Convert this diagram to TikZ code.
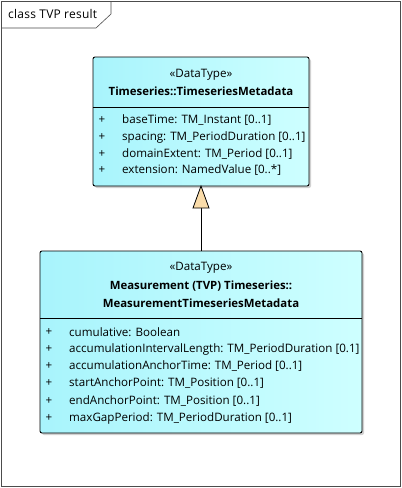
\documentclass[tikz,border=0pt]{standalone}
\usepackage{fontspec}
\setmainfont{Open Sans}
\usetikzlibrary{shadows}
\definecolor{cyanL}{RGB}{168,244,252}
\definecolor{cyanR}{RGB}{206,255,255}
\tikzset{
  classbox/.style={draw=black, line width=0.9pt, rounded corners=2pt,
    left color=cyanL, right color=cyanR,
    drop shadow={shadow xshift=2pt, shadow yshift=-2pt, fill=black!18, opacity=1}},
  sepline/.style={draw=black, line width=0.8pt},
  txt/.style={font=\fontsize{11.6}{13}\selectfont, inner sep=0pt},
  btxt/.style={font=\fontsize{11.4}{13}\selectfont\bfseries, inner sep=0pt},
  attr/.style={txt, anchor=west},
  frame/.style={draw=black!70, line width=0.6pt},
  genarrow/.style={draw=black, line width=0.8pt}
}
\begin{document}
\begin{tikzpicture}[x=1pt,y=-1pt]
\useasboundingbox (0,0) rectangle (402,488);
\fill[white] (0,0) rectangle (402,488);
% frame
\draw[frame] (1,1) rectangle (400,486);
\draw[frame] (1,28) -- (96,28) -- (111,14) -- (111,1);
\node[inner sep=0pt, anchor=west, font=\fontsize{12}{14}\selectfont\addfontfeature{LetterSpace=2}] (title) at (8,14) {class TVP result};
% top class
\path[classbox] (93,57) rectangle (309,186);
\coordinate (topbot) at (201,186);
\draw[sepline] (93,107) -- (309,107);
\node[txt] (t1) at (201,75) {«DataType»};
\node[btxt] (t2) at (201,91) {Timeseries::TimeseriesMetadata};
\foreach \y/\t [count=\i] in {120/{baseTime: TM\_Instant [0..1]},137/{spacing: TM\_PeriodDuration [0..1]},154/{domainExtent: TM\_Period [0..1]},170/{extension: NamedValue [0..*]}}{
  \node[txt] (tp\i) at (102,\y) {+};
  \node[attr] (ta\i) at (122,\y) {\t};
}
% bottom class
\path[classbox] (40,251) rectangle (362,433);
\coordinate (bottop) at (201,251);
\draw[sepline] (40,318) -- (362,318);
\node[txt] (b1) at (201,268) {«DataType»};
\node[btxt] (b2) at (201,286) {Measurement (TVP) Timeseries::};
\node[btxt] (b3) at (201,303) {MeasurementTimeseriesMetadata};
\foreach \y/\t [count=\i] in {332/{cumulative: Boolean},349/{accumulationIntervalLength: TM\_PeriodDuration [0.1]},366/{accumulationAnchorTime: TM\_Period [0..1]},383/{startAnchorPoint: TM\_Position [0..1]},401/{endAnchorPoint: TM\_Position [0..1]},418/{maxGapPeriod: TM\_PeriodDuration [0..1]}}{
  \node[txt] (bp\i) at (49,\y) {+};
  \node[attr] (ba\i) at (69,\y) {\t};
}
% generalization
\coordinate (tribase) at (201,208);
\draw[genarrow] (bottop) -- (tribase);
\draw[genarrow, fill={rgb,255:red,250;green,220;blue,170}, line join=miter] (topbot) -- (209,208) -- (193,208) -- cycle;
\end{tikzpicture}
\end{document}
